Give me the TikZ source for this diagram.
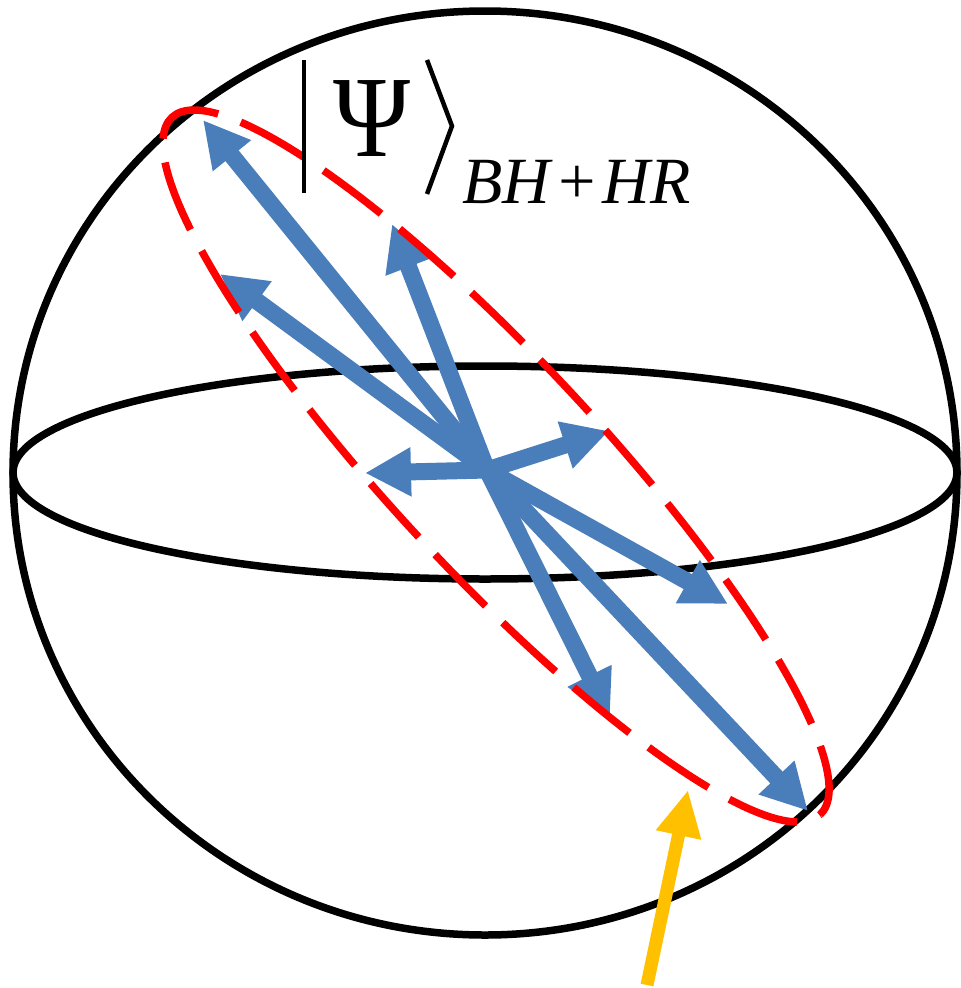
\documentclass[tikz,border=0pt]{standalone}
\usepackage{fontspec}
\setmainfont{Liberation Serif}
\usetikzlibrary{arrows.meta}
\definecolor{arrowblue}{RGB}{74,126,187}
\definecolor{gold}{RGB}{255,192,0}
\begin{document}
\begin{tikzpicture}[x=1pt,y=-1pt,
  sphereline/.style={draw=black,line width=7.5pt},
  vecarrow/.style={draw=arrowblue,line width=17pt,
    -{Triangle[width=46pt,length=46pt]}},
  ringline/.style={draw=red,line width=7.5pt,dash pattern=on 72pt off 24pt},
  markarrow/.style={draw=gold,line width=13pt,
    -{Triangle[width=43pt,length=46pt]}},
  ketline/.style={draw=black,line width=4.5pt}]
\useasboundingbox (0,0) rectangle (961,988);
\fill[white] (0,0) rectangle (961,988);
% sphere
\draw[sphereline] (485,473) ellipse [x radius=472pt, y radius=462pt];
\draw[sphereline] (485,472.5) ellipse [x radius=472pt, y radius=106.5pt];
% vectors
\coordinate (c) at (487,470);
\coordinate (t1) at (203,120);
\coordinate (t2) at (392,224);
\coordinate (t3) at (220,274);
\coordinate (t4) at (609,431);
\coordinate (t5) at (365,473);
\coordinate (t6) at (728,604);
\coordinate (t7) at (610,717);
\coordinate (t8) at (808,811);
\foreach \t in {t1,t2,t3,t4,t5,t6,t7,t8} \draw[vecarrow] (c) -- (\t);
% dashed ring
\draw[ringline, rotate around={-47.1:(496,466)}] (496,466) ellipse [x radius=476pt, y radius=105pt];
% yellow arrow
\coordinate (ys) at (647,985);
\coordinate (ye) at (688,790);
\draw[markarrow] (ys) -- (ye);
% ket label
\draw[ketline] (304,60) -- (304,193);
\draw[ketline] (427,60) -- (452,126) -- (427,194);
\node[anchor=base,inner sep=0pt,xscale=0.9,transform shape,font=\fontsize{116}{116}\selectfont] (psi) at (372,156) {Ψ};
\node[anchor=base west,inner sep=0pt,font=\fontsize{66}{66}\selectfont\itshape] (sub) at (462,203) {BH\kern4pt+\kern4pt HR};
\end{tikzpicture}
\end{document}
